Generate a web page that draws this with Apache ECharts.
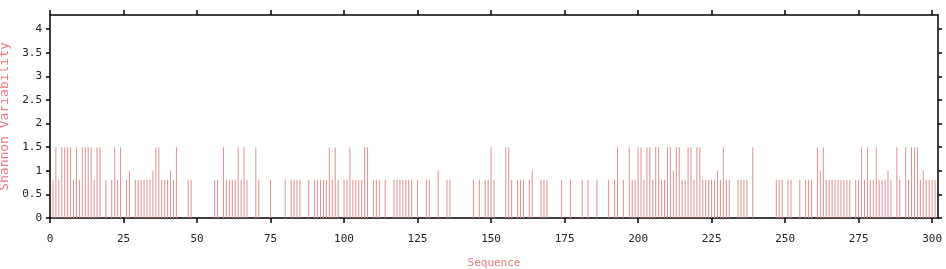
<!DOCTYPE html>
<html>
<head>
<meta charset="utf-8">
<script src="https://cdn.jsdelivr.net/npm/echarts@6/dist/echarts.min.js"></script>
<style>
html,body{margin:0;padding:0;background:#fff;}
#chart{width:946px;height:269px;}
</style>
</head>
<body>
<div id="chart"></div>
<script>
// Sequence positions that have non-zero variability, and their Shannon values
const positions = [
  1,2,3,4,5,6,7,8,9,10,11,12,13,14,15,16,17,19,21,22,23,24,26,27,29,30,31,32,33,34,35,36,37,38,39,40,41,42,43,47,48,
  56,57,59,60,61,62,63,64,65,66,67,70,71,75,80,82,83,84,85,88,90,91,92,93,94,95,96,97,98,
  100,101,102,103,104,105,106,107,108,110,111,112,114,117,118,119,120,121,122,123,125,128,129,132,135,136,144,146,148,149,
  150,151,155,156,157,159,160,161,163,164,167,168,169,174,177,181,183,186,190,192,193,195,197,198,199,
  200,201,202,203,204,205,206,207,208,209,210,211,212,213,214,215,216,217,218,219,220,221,222,223,224,225,226,227,228,229,230,231,234,235,236,237,239,
  247,248,249,251,252,255,257,258,259,261,262,263,264,265,266,267,268,269,270,271,272,274,275,276,277,278,279,280,281,282,283,284,285,286,288,289,
  291,292,293,294,295,296,297,298,299,300,301
];
const variability = [
  0.81,1.5,0.81,1.5,1.5,1.5,1.5,0.81,1.5,0.81,1.5,1.5,1.5,1.5,0.81,1.5,1.5,0.81,0.81,1.5,0.81,1.5,0.81,1.0,0.81,0.81,0.81,0.81,0.81,0.81,1.0,1.5,1.5,0.81,0.81,0.81,1.0,0.81,1.5,0.81,0.81,
  0.81,0.81,1.5,0.81,0.81,0.81,0.81,1.5,0.81,1.5,0.81,1.5,0.81,0.81,0.81,0.81,0.81,0.81,0.81,0.81,0.81,0.81,0.81,0.81,0.81,1.5,0.81,1.5,0.81,
  0.81,0.81,1.5,0.81,0.81,0.81,0.81,1.5,1.5,0.81,0.81,0.81,0.81,0.81,0.81,0.81,0.81,0.81,0.81,0.81,0.81,0.81,0.81,1.0,0.81,0.81,0.81,0.81,0.81,0.81,
  1.5,0.81,1.5,1.5,0.81,0.81,0.81,0.81,0.81,1.0,0.81,0.81,0.81,0.81,0.81,0.81,0.81,0.81,0.81,0.81,1.5,0.81,1.5,0.81,0.81,
  1.5,1.5,0.81,1.5,1.5,0.81,1.5,1.5,0.81,0.81,1.5,1.5,1.0,1.5,1.5,0.81,0.81,1.5,1.5,0.81,1.5,1.5,0.81,0.81,0.81,0.81,0.81,1.0,0.81,1.5,0.81,0.81,0.81,0.81,0.81,0.81,1.5,
  0.81,0.81,0.81,0.81,0.81,0.81,0.81,0.81,0.81,1.5,1.0,1.5,0.81,0.81,0.81,0.81,0.81,0.81,0.81,0.81,0.81,0.81,0.81,1.5,0.81,1.5,0.81,0.81,1.5,0.81,0.81,0.81,1.0,0.81,1.5,0.81,
  1.5,0.81,1.5,1.5,1.5,0.81,1.0,0.81,0.81,0.81,0.81
];
const xTicks = [0,25,50,75,100,125,150,175,200,225,250,275,300];
const yTicks = [0,0.5,1,1.5,2,2.5,3,3.5,4];
const xMax = 302;
const yMax = 4.3;

const barData = positions.map((p, i) => [p, variability[i]]);

const chart = echarts.init(document.getElementById('chart'), null, {renderer: 'canvas'});
const mono = 'DejaVu Sans Mono, monospace';
const axisLineStyle = {color: '#000', width: 1.5};
chart.setOption({
  animation: false,
  backgroundColor: '#fff',
  grid: {left: 50, right: 8, top: 15, bottom: 51, containLabel: false, outerBoundsMode: 'none'},
  xAxis: [{
    type: 'value', position: 'bottom', min: 0, max: xMax,
    name: 'Sequence', nameLocation: 'middle', nameGap: 40,
    nameTextStyle: {color: '#f07878', fontFamily: mono, fontSize: 11},
    axisLine: {show: true, onZero: false, lineStyle: axisLineStyle},
    axisTick: {show: true, length: 5, lineStyle: {color: '#000', width: 1.5}, customValues: xTicks},
    axisLabel: {color: '#222', fontFamily: mono, fontSize: 11, margin: 16, customValues: xTicks},
    splitLine: {show: false}
  }, {
    type: 'value', position: 'top', min: 0, max: xMax,
    axisLine: {show: true, onZero: false, lineStyle: axisLineStyle},
    axisTick: {show: true, length: 5, lineStyle: {color: '#000', width: 1.5}, customValues: xTicks},
    axisLabel: {show: false},
    splitLine: {show: false}
  }],
  yAxis: [{
    type: 'value', position: 'left', min: 0, max: yMax,
    name: 'Shannon Variability', nameLocation: 'middle', nameGap: 30,
    nameTextStyle: {color: '#f07878', fontFamily: mono, fontSize: 13},
    axisLine: {show: true, onZero: false, lineStyle: axisLineStyle},
    axisTick: {show: true, length: 4, lineStyle: {color: '#000', width: 1.5}, customValues: yTicks},
    axisLabel: {color: '#222', fontFamily: mono, fontSize: 11, margin: 8, customValues: yTicks},
    splitLine: {show: false}
  }, {
    type: 'value', position: 'right', min: 0, max: yMax,
    axisLine: {show: true, onZero: false, lineStyle: axisLineStyle},
    axisTick: {show: true, length: 4, lineStyle: {color: '#000', width: 1.5}, customValues: yTicks},
    axisLabel: {show: false},
    splitLine: {show: false}
  }],
  series: [{
    type: 'bar',
    xAxisIndex: 0, yAxisIndex: 0,
    data: barData,
    barWidth: 1,
    itemStyle: {color: '#e58f8f'},
    silent: true
  }]
});
</script>
</body>
</html>
